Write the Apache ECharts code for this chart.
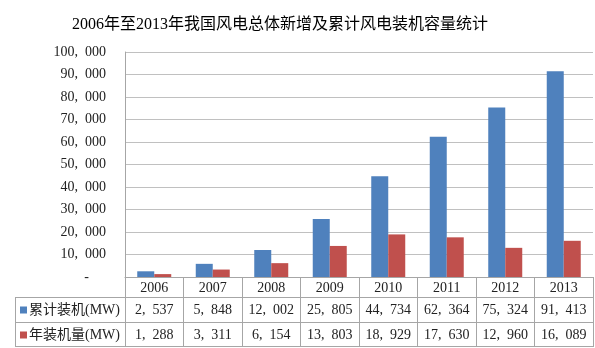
<!DOCTYPE html>
<html><head><meta charset="utf-8">
<script src="https://cdn.jsdelivr.net/npm/echarts@6/dist/echarts.min.js"></script>
<style>html,body{margin:0;padding:0;background:#fff}#c{width:595px;height:348px}</style>
</head><body><div id="c"></div>
<script>
const years = ['2006','2007','2008','2009','2010','2011','2012','2013'];
const cumulative = [2537,5848,12002,25805,44734,62364,75324,91413];
const annual = [1288,3311,6154,13803,18929,17630,12960,16089];
const seriesNames = ['累计装机(MW)','年装机量(MW)'];
const titleText = '2006年至2013年我国风电总体新增及累计风电装机容量统计';

const fmt = v => v.toLocaleString('en-US').replace(/,/g, ',\u00a0\u00a0');
const serif = '"Liberation Serif","DejaVu Serif","Noto Sans CJK SC",serif';
const lineCol = '#a6a6a6';
const gridLeft = 125, gridRight = 2, gridTop = 52, gridBottom = 71;
const H = 348;
const axisY = H - gridBottom;
const rowOff = [20, 45, 70];
const tableLeft = 15;

const chart = echarts.init(document.getElementById('c'));
const lbl = {interval:0, fontSize:14, color:'#222', fontFamily:serif};
const xBase = {type:'category', gridIndex:0, position:'bottom', axisTick:{show:false},
  axisLine:{show:true, lineStyle:{color:lineCol}}};
const legendBase = {orient:'vertical', left:20, padding:0, itemWidth:7, itemHeight:7,
  icon:'rect', textStyle:{fontSize:14, color:'#222', fontFamily:serif, padding:[0,0,0,-3]}};
chart.setOption({
  animation:false,
  title:{text:titleText, left:67, top:12,
    textStyle:{fontSize:16, fontWeight:'normal', color:'#000', fontFamily:serif}},
  legend:[
    Object.assign({}, legendBase, {top:axisY+rowOff[0]+6, data:[seriesNames[0]]}),
    Object.assign({}, legendBase, {top:axisY+rowOff[1]+6, data:[seriesNames[1]]})
  ],
  grid:{left:gridLeft, right:gridRight, top:gridTop, bottom:gridBottom},
  xAxis:[
    Object.assign({}, xBase, {data:years,
      axisTick:{show:true, interval:0, length:rowOff[2], lineStyle:{color:lineCol}},
      axisLabel:Object.assign({}, lbl, {margin:4})}),
    Object.assign({}, xBase, {data:cumulative.map(fmt), offset:rowOff[0],
      axisLabel:Object.assign({}, lbl, {margin:6})}),
    Object.assign({}, xBase, {data:annual.map(fmt), offset:rowOff[1],
      axisLabel:Object.assign({}, lbl, {margin:6})}),
    Object.assign({}, xBase, {data:years, offset:rowOff[2]-1, axisLabel:{show:false}})
  ],
  yAxis:{type:'value', min:0, max:100000, interval:10000,
    axisLine:{show:true, lineStyle:{color:lineCol}}, axisTick:{show:false},
    splitLine:{lineStyle:{color:'#c0c0c0'}},
    axisLabel:{margin:19, fontSize:14, color:'#222', fontFamily:serif,
      formatter:v => v === 0 ? '{z|-}' : fmt(v),
      rich:{z:{fontSize:14, color:'#222', padding:[0,17,0,0]}}}},
  series:[
    {name:seriesNames[0], type:'bar', data:cumulative, barWidth:17, barGap:'0%',
     itemStyle:{color:'#4F81BD'}},
    {name:seriesNames[1], type:'bar', data:annual, barWidth:17, barGap:'0%',
     itemStyle:{color:'#C0504D'}}
  ],
  graphic:[
    ...rowOff.map((o,i)=>({type:'line', shape:{x1:tableLeft, y1:axisY+o-(i==2?1:0)+0.5, x2:gridLeft, y2:axisY+o-(i==2?1:0)+0.5},
      style:{stroke:lineCol, lineWidth:1}})),
    {type:'line', shape:{x1:tableLeft+0.5, y1:axisY+rowOff[0], x2:tableLeft+0.5, y2:axisY+rowOff[2]},
      style:{stroke:lineCol, lineWidth:1}}
  ]
});
</script></body></html>
